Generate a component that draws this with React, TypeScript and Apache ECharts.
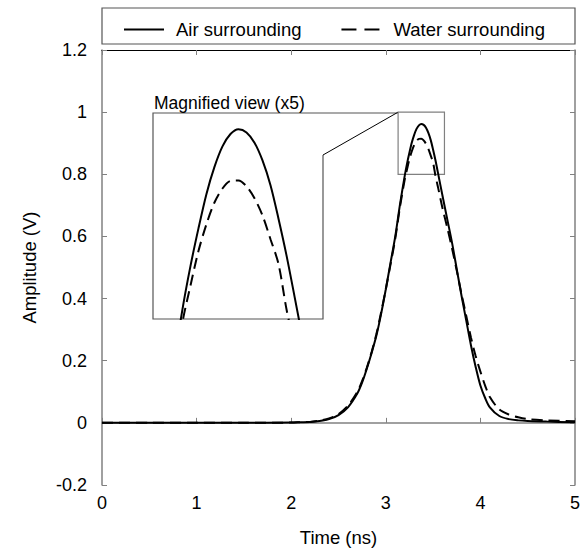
import React, { useEffect, useRef } from "react";
import * as echarts from "echarts";

const times = [0, 0.5, 1, 1.5, 2, 2.1, 2.2, 2.3, 2.4, 2.5, 2.6, 2.7, 2.75, 2.8, 2.85, 2.9, 2.95, 3.0, 3.05, 3.1, 3.15, 3.2, 3.225, 3.25, 3.275, 3.3, 3.325, 3.35, 3.375, 3.4, 3.425, 3.45, 3.475, 3.5, 3.525, 3.55, 3.6, 3.65, 3.7, 3.75, 3.8, 3.85, 3.9, 3.95, 4.0, 4.05, 4.1, 4.2, 4.3, 4.4, 4.5, 4.7, 5.0];
const airValues = [0, 0, 0, 0, 0.001, 0.002, 0.003, 0.006, 0.012, 0.025, 0.05, 0.095, 0.13, 0.175, 0.225, 0.28, 0.35, 0.43, 0.515, 0.6, 0.703, 0.795, 0.835, 0.87, 0.902, 0.927, 0.946, 0.9575, 0.962, 0.959, 0.9495, 0.933, 0.91, 0.879, 0.845, 0.807, 0.73, 0.655, 0.58, 0.495, 0.41, 0.33, 0.25, 0.18, 0.12, 0.08, 0.05, 0.022, 0.012, 0.008, 0.006, 0.004, 0.002];
const waterValues = [0, 0, 0, 0, 0.001, 0.002, 0.003, 0.007, 0.014, 0.028, 0.055, 0.1, 0.135, 0.178, 0.228, 0.285, 0.355, 0.43, 0.51, 0.593, 0.695, 0.783, 0.817, 0.849, 0.874, 0.894, 0.907, 0.914, 0.9145, 0.909, 0.898, 0.882, 0.86, 0.837, 0.795, 0.761, 0.69, 0.628, 0.562, 0.49, 0.415, 0.345, 0.275, 0.215, 0.165, 0.12, 0.083, 0.043, 0.027, 0.018, 0.012, 0.008, 0.005];
const seriesNames = ["Air surrounding", "Water surrounding"];
const xTicks = [0, 5, 1];
const yTicks = [-0.2, 1.2, 0.2];
const zoomBox = [3.13, 3.62, 0.8, 1.0];
const insetRange = [3.108, 3.639, 0.786, 0.977];

const FONT = "'Liberation Sans', Arial, sans-serif";

export default function App() {
  const ref = useRef<HTMLDivElement>(null);
  useEffect(() => {
    document.body.style.margin = "0";
    const chart = echarts.init(ref.current!, null, { renderer: "svg" });
    const air = times.map((t, i) => [t, airValues[i]]);
    const water = times.map((t, i) => [t, waterValues[i]]);
    const inset = { left: 153, top: 113, width: 170, height: 206 };
    const lineAir = { color: "#000", width: 2, type: "solid" as const };
    const lineWater = { color: "#000", width: 2, type: [11, 6] as any };
    const SM = 0.3;
    chart.setOption({
      animation: false,
      textStyle: { fontFamily: FONT },
      legend: {
        left: 118,
        top: 15,
        itemWidth: 40,
        itemHeight: 14,
        itemGap: 39,
        itemStyle: { opacity: 0 },
        textStyle: { fontSize: 18.5, color: "#000", fontFamily: FONT, padding: [0, 0, 0, 7] },
        data: [
          { name: seriesNames[0], lineStyle: { type: "solid", width: 2 } },
          { name: seriesNames[1], lineStyle: { type: [15, 8], width: 2 } },
        ],
      },
      grid: [
        { left: 102, top: 50, width: 473, height: 437 },
        { ...inset },
      ],
      xAxis: [
        {
          type: "value", gridIndex: 0, min: xTicks[0], max: xTicks[1], interval: xTicks[2],
          name: "Time (ns)", nameLocation: "middle", nameGap: 43,
          nameTextStyle: { fontSize: 18.5, color: "#000", fontFamily: FONT },
          axisLine: { lineStyle: { color: "#808080", width: 1.5 } },
          axisTick: { inside: true, length: 5, lineStyle: { color: "#808080" } },
          axisLabel: { fontSize: 18, color: "#000", margin: 9, fontFamily: FONT },
          splitLine: { show: false },
        },
        {
          type: "value", gridIndex: 0, position: "top", min: xTicks[0], max: xTicks[1], interval: xTicks[2],
          axisLine: { onZero: false, lineStyle: { color: "#000", width: 1.2 } },
          axisTick: { inside: true, length: 5, lineStyle: { color: "#808080" } },
          axisLabel: { show: false }, splitLine: { show: false },
        },
        { type: "value", gridIndex: 1, min: insetRange[0], max: insetRange[1], show: false, splitLine: { show: false } },
      ],
      yAxis: [
        {
          type: "value", gridIndex: 0, min: yTicks[0], max: yTicks[1], interval: yTicks[2],
          name: "Amplitude (V)", nameLocation: "middle", nameGap: 63,
          nameTextStyle: { fontSize: 18.5, color: "#000", fontFamily: FONT },
          axisLine: { onZero: false, lineStyle: { color: "#808080", width: 1.5 } },
          axisTick: { inside: true, length: 5, lineStyle: { color: "#808080" } },
          axisLabel: {
            fontSize: 18, color: "#000", margin: 15, fontFamily: FONT,
            formatter: (v: number) => String(Number(v.toFixed(1))),
          },
          splitLine: { show: false },
        },
        {
          type: "value", gridIndex: 0, position: "right", min: yTicks[0], max: yTicks[1], interval: yTicks[2],
          axisLine: { onZero: false, lineStyle: { color: "#808080", width: 1.5 } },
          axisTick: { inside: true, length: 5, lineStyle: { color: "#808080" } },
          axisLabel: { show: false }, splitLine: { show: false },
        },
        { type: "value", gridIndex: 1, min: insetRange[2], max: insetRange[3], show: false, splitLine: { show: false } },
      ],
      series: [
        {
          name: seriesNames[0], type: "line", xAxisIndex: 0, yAxisIndex: 0, data: air,
          symbol: "none", smooth: SM, lineStyle: lineAir, itemStyle: { color: "#000" }, z: 3,
          markArea: {
            silent: true,
            itemStyle: { color: "rgba(0,0,0,0)", borderColor: "#808080", borderWidth: 1.2 },
            data: [[{ coord: [zoomBox[0], zoomBox[3]] }, { coord: [zoomBox[1], zoomBox[2]] }]],
          },
        },
        {
          name: seriesNames[1], type: "line", xAxisIndex: 0, yAxisIndex: 0, data: water,
          symbol: "none", smooth: SM, lineStyle: lineWater, itemStyle: { color: "#000" }, z: 3,
        },
        {
          name: seriesNames[0] + " (inset)", type: "line", xAxisIndex: 2, yAxisIndex: 2, data: air,
          symbol: "none", smooth: SM, lineStyle: lineAir, clip: true, silent: true,
        },
        {
          name: seriesNames[1] + " (inset)", type: "line", xAxisIndex: 2, yAxisIndex: 2, data: water,
          symbol: "none", smooth: SM, lineStyle: lineWater, clip: true, silent: true,
        },
      ],
    });
    const corner = chart.convertToPixel({ xAxisIndex: 0, yAxisIndex: 0 }, [zoomBox[0], zoomBox[3]]) as number[];
    const L = inset.left, T = inset.top, R = inset.left + inset.width, B = inset.top + inset.height;
    chart.setOption({
      graphic: [
        {
          type: "rect", shape: { x: 102, y: 8, width: 473, height: 36 },
          style: { fill: "none", stroke: "#555", lineWidth: 1.2 }, silent: true,
        },
        {
          type: "polyline", shape: { points: [[corner[0], T], [L, T], [L, B], [R, B], [R, 155]] },
          style: { fill: "none", stroke: "#555", lineWidth: 1.2 }, silent: true,
        },
        {
          type: "line", shape: { x1: R, y1: 155, x2: corner[0], y2: corner[1] },
          style: { stroke: "#000", lineWidth: 1 }, silent: true,
        },
        {
          type: "text", x: 154, y: 94,
          style: { text: "Magnified view (x5)", fontSize: 17.5, fill: "#000", fontFamily: FONT },
        },
      ],
    });
    return () => chart.dispose();
  }, []);
  return <div ref={ref} style={{ width: 587, height: 552 }} />;
}
